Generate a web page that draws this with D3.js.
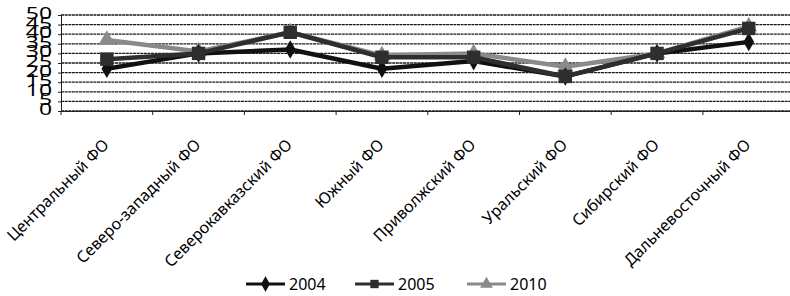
<!DOCTYPE html>
<html>
<head>
<meta charset="utf-8">
<script src="https://cdn.jsdelivr.net/npm/d3@7"></script>
<style>
  body { margin: 0; background: #fff; }
  svg text { font-family: "Noto Sans", "Open Sans", sans-serif; fill: #000; }
</style>
</head>
<body>
<svg id="chart"></svg>
<script>
const categories = ["Центральный ФО", "Северо-западный ФО", "Северокавказский ФО", "Южный ФО",
    "Приволжский ФО", "Уральский ФО", "Сибирский ФО", "Дальневосточный ФО"];
const years = ["2004", "2005", "2010"];
const values2004 = [22, 30, 32, 22, 26, 18, 30, 36];
const values2005 = [27, 30, 41, 28, 28, 18, 30, 43];
const values2010 = [37, 31, 41, 29, 30, 23, 30, 44];
const yTicks = [0, 5, 10, 15, 20, 25, 30, 35, 40, 45, 50];

const width = 790, height = 296;
const margin = {left: 61, top: 15};
const plotW = 8 * 91.7, plotH = 96;

const svg = d3.select("#chart").attr("width", width).attr("height", height);

const x = d3.scaleBand().domain(categories).range([margin.left, margin.left + plotW]);
const y = d3.scaleLinear().domain([0, 50]).range([margin.top + plotH, margin.top]);

// gridlines
svg.append("g")
    .selectAll("line")
    .data(yTicks)
    .enter().append("line")
    .attr("x1", margin.left)
    .attr("x2", margin.left + plotW)
    .attr("y1", d => y(d))
    .attr("y2", d => y(d))
    .attr("stroke", "#1a1a1a")
    .attr("stroke-width", 1.3)
    .attr("stroke-dasharray", "3,0.6");

// y axis
const yAxis = svg.append("g")
    .attr("transform", `translate(${margin.left},0)`)
    .call(d3.axisLeft(y).tickValues(yTicks).tickSize(3).tickFormat(d => ""));
yAxis.selectAll("path, line").attr("stroke", "#222");

// wide, overlapping y labels (as in the scan)
svg.append("g")
    .selectAll("text")
    .data(yTicks)
    .enter().append("text")
    .attr("transform", d => `translate(52,${y(d) + 4}) scale(1.35,0.95)`)
    .attr("text-anchor", "end")
    .style("font-size", "17px")
    .text(d => d);

// x axis
const xAxis = svg.append("g")
    .attr("transform", `translate(0,${margin.top + plotH})`)
    .call(d3.axisBottom(x).tickSize(0).tickFormat(""));
xAxis.select("path").attr("stroke", "#222");
svg.append("g")
    .selectAll("line")
    .data(d3.range(categories.length + 1))
    .enter().append("line")
    .attr("x1", i => margin.left + i * x.step())
    .attr("x2", i => margin.left + i * x.step())
    .attr("y1", margin.top + plotH)
    .attr("y2", margin.top + plotH + 4)
    .attr("stroke", "#222");

// category labels
svg.append("g")
    .selectAll("text")
    .data(categories)
    .enter().append("text")
    .attr("transform", d => `translate(${x(d) + x.bandwidth() / 2 - 1},${margin.top + plotH + 31}) rotate(-45)`)
    .attr("text-anchor", "end")
    .attr("dy", "0.35em")
    .style("font-size", "16px")
    .text(d => d);

const series = [
    {name: "2010", values: values2010, color: "#8a8a8a", marker: "triangle"},
    {name: "2004", values: values2004, color: "#111", marker: "diamond"},
    {name: "2005", values: values2005, color: "#2e2e2e", marker: "square"}
];

const symbolType = {triangle: d3.symbolTriangle, diamond: d3.symbolDiamond, square: d3.symbolSquare};
const symbolSize = {triangle: 120, diamond: 100, square: 180};

const line = d3.line()
    .x((d, i) => x(categories[i]) + x.bandwidth() / 2)
    .y(d => y(d));

series.forEach(s => {
    const g = svg.append("g");
    g.append("path")
        .datum(s.values)
        .attr("d", line)
        .attr("fill", "none")
        .attr("stroke", s.color)
        .attr("stroke-width", 4.5)
        .attr("stroke-linejoin", "round");
    g.selectAll("path.m")
        .data(s.values)
        .enter().append("path")
        .attr("class", "m")
        .attr("transform", (d, i) => `translate(${x(categories[i]) + x.bandwidth() / 2},${y(d)})`)
        .attr("d", d3.symbol().type(symbolType[s.marker]).size(symbolSize[s.marker]))
        .attr("fill", s.color);
});

// legend
const legendItems = [
    {name: "2004", color: "#111", marker: "diamond", x: 246},
    {name: "2005", color: "#2e2e2e", marker: "square", x: 355},
    {name: "2010", color: "#8a8a8a", marker: "triangle", x: 467}
];
const legend = svg.append("g").attr("transform", "translate(0,284)");
legendItems.forEach(item => {
    legend.append("line")
        .attr("x1", item.x).attr("x2", item.x + 39)
        .attr("y1", 0).attr("y2", 0)
        .attr("stroke", item.color)
        .attr("stroke-width", 3);
    legend.append("path")
        .attr("transform", `translate(${item.x + 19.5},0)`)
        .attr("d", d3.symbol().type(symbolType[item.marker]).size(70))
        .attr("fill", item.color);
    legend.append("text")
        .attr("x", item.x + 43)
        .attr("y", 6)
        .style("font-size", "16px")
        .text(item.name);
});
</script>
</body>
</html>
